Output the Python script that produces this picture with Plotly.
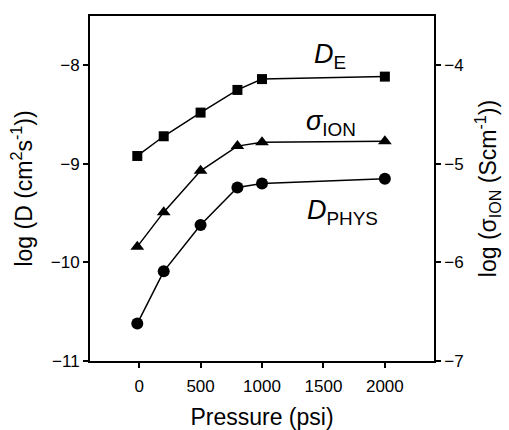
import plotly.graph_objects as go

# Applied pressure (psi)
pressure = [-15, 200, 500, 800, 1000, 2000]

# log diffusion coefficients (cm^2 s^-1)
log_D_E = [-8.92, -8.72, -8.48, -8.25, -8.14, -8.115]
log_D_phys = [-10.62, -10.09, -9.62, -9.24, -9.20, -9.15]

# log ionic conductivity (S cm^-1), right axis
log_sigma_ion = [-5.84, -5.49, -5.07, -4.82, -4.78, -4.77]

x_ticks = [0, 500, 1000, 1500, 2000]
y_left_ticks = [-11, -10, -9, -8]
y_right_ticks = [-7, -6, -5, -4]

FONT = "Liberation Sans, Arial, sans-serif"
line_style = dict(color="black", width=1.5)

fig = go.Figure()
fig.add_trace(go.Scatter(x=pressure, y=log_D_E, mode="lines+markers",
                         line=line_style,
                         marker=dict(symbol="square", size=10, color="black")))
fig.add_trace(go.Scatter(x=pressure, y=log_D_phys, mode="lines+markers",
                         line=line_style,
                         marker=dict(symbol="circle", size=12, color="black")))
fig.add_trace(go.Scatter(x=pressure, y=log_sigma_ion, mode="lines+markers",
                         yaxis="y2", line=line_style,
                         marker=dict(symbol="triangle-up", size=12, color="black")))

axis_common = dict(showline=True, linecolor="black", linewidth=1.8,
                   ticks="outside", ticklen=5, tickwidth=1.5, tickcolor="black",
                   showgrid=False, zeroline=False, automargin=False,
                   tickfont=dict(family=FONT, size=17, color="black"))

fig.update_layout(
    width=509, height=430,
    margin=dict(l=90, r=75, t=16, b=69),
    paper_bgcolor="white", plot_bgcolor="white",
    showlegend=False,
    font=dict(family=FONT, color="black"),
    xaxis=dict(range=[-400, 2400], tickvals=x_ticks, mirror=True,
               ticklabelstandoff=4,
               title=dict(text="Pressure (psi)", font=dict(family=FONT, size=23),
                          standoff=23),
               **axis_common),
    yaxis=dict(range=[-11, -7.5], tickvals=y_left_ticks,
               title=dict(text="log (D (cm<sup>2</sup>s<sup>-1</sup>))",
                          font=dict(family=FONT, size=23), standoff=12),
               **axis_common),
    yaxis2=dict(range=[-7, -3.5], tickvals=y_right_ticks, overlaying="y", side="right",
                title=dict(text="log (σ<sub>ION</sub> (Scm<sup>-1</sup>))",
                           font=dict(family=FONT, size=23), standoff=17),
                **axis_common),
)

labels = [
    ("<i>D</i><sub>E</sub>", 0.698, 0.885),
    ("<i>σ</i><sub>ION</sub>", 0.700, 0.690),
    ("<i>D</i><sub>PHYS</sub>", 0.735, 0.433),
]
for text, ax, ay in labels:
    fig.add_annotation(text=text, x=ax, y=ay, xref="paper", yref="paper",
                       xanchor="center", yanchor="middle",
                       showarrow=False, font=dict(family=FONT, size=27, color="black"))

fig.write_html("out.html")
